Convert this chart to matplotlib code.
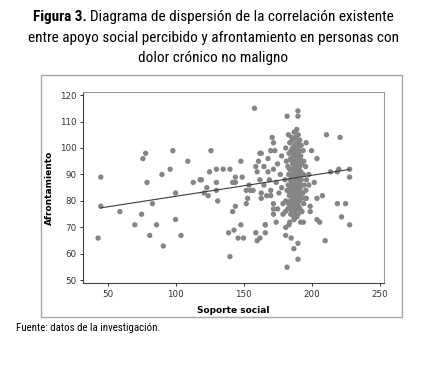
import matplotlib
matplotlib.use("Agg")
import matplotlib.pyplot as plt
from matplotlib import font_manager
from matplotlib.patches import Rectangle

# Pick a condensed font for the caption if one is installed
def pick_font(names):
    for n in names:
        try:
            font_manager.findfont(n, fallback_to_default=False)
            return n
        except Exception:
            pass
    return "DejaVu Sans"

cond_font = pick_font(["Liberation Sans Narrow", "Roboto Condensed", "Open Sans Condensed", "Roboto"])
print("caption font:", cond_font)

# -------------------------
# Data
# -------------------------
# scattered points outside the dense cluster
soporte_sparse = [
    43, 45, 45, 59, 70, 75, 76, 78, 79, 81, 83, 86, 90, 91, 96, 98, 100, 100, 104, 109, 113, 118,
    119, 121, 123, 124, 125, 126, 130, 130, 130, 131, 135, 140, 142, 144, 144, 144, 142, 148, 149,
    139, 143, 146, 148, 150, 140, 152, 152, 153, 154, 155, 157, 158, 159, 160, 161, 162, 162, 163,
    163, 159, 160, 166, 171, 172, 170, 173, 163, 168, 178, 184, 165, 168, 172, 175, 177, 169, 174,
    178, 165, 170, 176, 167, 170, 172, 179, 175, 172, 172, 174, 179, 181, 184, 166, 166, 162, 181,
    185, 187, 190, 190, 182, 182, 190, 190,
    211, 221, 200, 204, 198, 214, 219, 220, 228, 228, 202, 198, 208, 204, 195, 219, 225, 199, 199,
    193, 222, 204, 206, 228, 194, 210,
]
afront_sparse = [
    66, 89, 78, 76, 71, 75, 96, 98, 87, 67, 79, 71, 90, 63, 92, 99, 83, 73, 67, 95, 87, 88,
    88, 83, 85, 82, 91, 99, 92, 87, 84, 80, 92, 92, 87, 87, 89, 78, 76, 95, 89,
    68, 69, 66, 71, 66, 59, 79, 84, 81, 86, 84, 84, 115, 93, 91, 95, 98, 88, 83,
    81, 68, 65, 71, 104, 102, 99, 99, 98, 96, 97, 102, 93, 91, 92, 94, 90, 88, 87,
    85, 86, 84, 83, 82, 82, 79, 79, 77, 77, 75, 72, 75, 70, 72, 68, 71, 66, 67,
    66, 62, 64, 58, 55, 112, 114, 112,
    105, 104, 99, 96, 90, 91, 91, 92, 92, 89, 87, 86, 82, 81, 81, 79, 79, 78, 76,
    76, 74, 73, 72, 71, 72, 65,
]

# dense cluster around Soporte social 180-196
soporte_cluster = [
    181, 181.5, 180.5, 182, 181, 180.8,
    183, 183.5, 182.6, 183.2, 182.8, 183.7, 183.1, 182.5, 183.4,
    184.2, 184.6, 183.9, 184.4, 184.8, 184.1, 184.5, 184.0, 184.7,
    185.3, 185.0, 185.6, 185.2, 185.8, 185.4, 185.1, 185.7, 185.5, 184.9, 185.3,
    186.4, 186.0, 186.7, 186.2, 186.5, 186.1, 186.8, 186.3, 186.6, 186.0, 186.4, 186.9,
    187.2, 187.6, 187.0, 187.4, 187.8, 187.1, 187.5, 187.3, 187.7, 187.0, 187.4, 187.6, 187.2,
    188.3, 188.0, 188.6, 188.2, 188.8, 188.4, 188.1, 188.7, 188.5, 188.0, 188.3, 188.6,
    189.1, 189.5, 189.0, 189.3, 189.7, 189.2, 189.6, 189.4, 189.8, 189.0, 189.3, 189.5, 189.1,
    190.2, 190.5, 190.0, 190.4, 190.7, 190.1, 190.6, 190.3, 190.8, 190.2, 190.5, 190.0,
    191.3, 191.0, 191.6, 191.2, 191.5, 191.1, 191.7, 191.4, 191.0, 191.5,
    192.4, 192.0, 192.7, 192.2, 192.5, 192.1, 192.8, 192.3, 192.6, 192.0,
    193.8, 194.3, 194.0, 194.6, 193.6, 194.2,
    196.0, 195.6, 196.3, 195.8, 196.2,
]
afront_cluster = [
    100, 95, 88, 84, 80, 76,
    105, 98, 93, 90, 86, 82, 79, 77, 71,
    102, 96, 92, 88, 85, 83, 80, 78, 75,
    104, 99, 95, 92, 89, 87, 84, 82, 80, 78, 76,
    103, 100, 97, 94, 91, 88, 86, 83, 81, 79, 77, 74,
    106, 101, 98, 95, 93, 90, 87, 85, 83, 81, 79, 76, 73,
    104, 100, 97, 94, 92, 89, 86, 84, 82, 80, 78, 75,
    107, 102, 99, 96, 93, 91, 88, 85, 83, 81, 79, 77, 74,
    105, 101, 98, 95, 92, 90, 87, 84, 82, 80, 78, 75,
    103, 99, 96, 93, 90, 87, 85, 82, 80, 77,
    101, 97, 94, 91, 88, 86, 83, 81, 76, 72,
    99, 95, 90, 86, 83, 79,
    102, 93, 88, 84, 81,
]

soporte = soporte_sparse + soporte_cluster
afront = afront_sparse + afront_cluster

# fitted line shown in the figure
line_x = [45, 228]
line_y = [77.4, 91.9]

x_ticks = [50, 100, 150, 200, 250]
y_ticks = [50, 60, 70, 80, 90, 100, 110, 120]

# -------------------------
# Figure
# -------------------------
fig = plt.figure(figsize=(4.27, 3.68), dpi=100)

# outer frame around the chart
fig.patches.append(Rectangle((0.096, 0.139), 0.845, 0.657, transform=fig.transFigure,
                             fill=False, edgecolor="#a8a8a8", linewidth=1.0))

ax = fig.add_axes([0.194, 0.230, 0.705, 0.519])
ax.scatter(soporte, afront, s=15, color="#858585", edgecolors="none", zorder=3)
ax.plot(line_x, line_y, color="#3a3a3a", linewidth=0.8, zorder=4)

ax.set_xlim(31.8, 253.2)
ax.set_ylim(48.9, 121.0)
ax.set_xticks(x_ticks)
ax.set_yticks(y_ticks)
ax.tick_params(labelsize=6.3, length=2.5, width=0.7, colors="#333333", pad=2)
ax.tick_params(axis="both", which="both", top=False, right=False)

for side in ["top", "right"]:
    ax.spines[side].set_color("#999999")
for side in ["left", "bottom"]:
    ax.spines[side].set_color("#444444")
for sp in ax.spines.values():
    sp.set_linewidth(0.8)

ax.set_xlabel("Soporte social", fontsize=6.5, fontweight="bold", labelpad=5)
ax.set_ylabel("Afrontamiento", fontsize=6.5, fontweight="bold", labelpad=4)

# caption: first line has a bold lead-in
cap_size = 11
renderer = fig.canvas.get_renderer()
bold_part = fig.text(0, 0, "Figura 3. ", fontsize=cap_size, fontweight="bold",
                     family=cond_font, va="center")
rest_part = fig.text(0, 0, "Diagrama de dispersión de la correlación existente",
                     fontsize=cap_size, family=cond_font, va="center")
w_bold = bold_part.get_window_extent(renderer).width / fig.bbox.width
w_rest = rest_part.get_window_extent(renderer).width / fig.bbox.width
x0 = 0.5 - (w_bold + w_rest) / 2
y1 = 1 - 17 / 368
bold_part.set_position((x0, y1))
rest_part.set_position((x0 + w_bold, y1))

fig.text(0.5, 1 - 38 / 368, "entre apoyo social percibido y afrontamiento en personas con",
         ha="center", va="center", fontsize=cap_size, family=cond_font)
fig.text(0.5, 1 - 58 / 368, "dolor crónico no maligno",
         ha="center", va="center", fontsize=cap_size, family=cond_font)

fig.text(16 / 427, 1 - 328 / 368, "Fuente: datos de la investigación.",
         ha="left", va="center", fontsize=7.8, family=cond_font)

fig.savefig("out.png", dpi=100)
